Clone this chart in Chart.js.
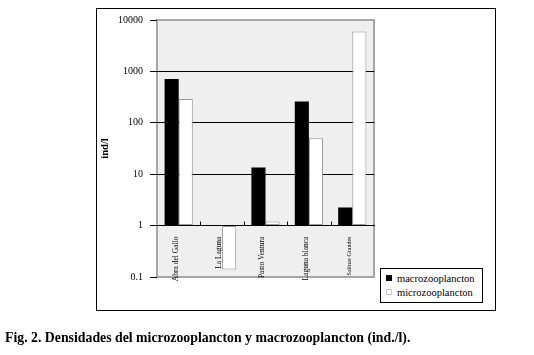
<!DOCTYPE html>
<html>
<head>
<meta charset="utf-8">
<script src="https://cdn.jsdelivr.net/npm/chart.js@4/dist/chart.umd.min.js"></script>
<style>
  html, body { margin: 0; padding: 0; background: #fff; }
  #wrap { position: relative; width: 534px; height: 355px; overflow: hidden; }
  #c { position: absolute; left: 0; top: 0; }
  #frame { position: absolute; left: 96px; top: 8px; width: 398px; height: 301px; border: 1px solid #000; pointer-events: none; }
  #legend { position: absolute; left: 380px; top: 268px; width: 101px; height: 33px; border: 1px solid #000; background: #fff; }
  .li { position: absolute; left: 5px; height: 12px; line-height: 12px; white-space: nowrap;
        font: 10.5px "Liberation Serif", "DejaVu Serif", serif; color: #000; }
  .sw { display: inline-block; width: 6px; height: 6px; margin-right: 5px; vertical-align: 1px; box-sizing: border-box; }
  #caption { position: absolute; left: 5px; top: 330px; font: bold 13.8px "Liberation Serif", "DejaVu Serif", serif; color: #000; white-space: nowrap; }
</style>
</head>
<body>
<div id="wrap">
  <canvas id="c" width="534" height="355"></canvas>
  <div id="frame"></div>
  <div id="legend"></div>
  <div id="caption">Fig. 2. Densidades del microzooplancton y macrozooplancton (ind./l).</div>
</div>
<script>
const categories = ['Abra del Gallo', 'La Laguna', 'Pasto Ventura', 'Laguna blanca', 'Salinas Grandes'];
const macrozooplancton = [710, null, 13.5, 260, 2.25];
const microzooplancton = [290, 0.14, 1.2, 50, 6000];
const yTicks = [0.1, 1, 10, 100, 1000, 10000];
const axisCross = 1;
const seriesLabels = ['macrozooplancton', 'microzooplancton'];

const plotBg = {
  id: 'plotBg',
  beforeDraw(chart) {
    const {ctx, chartArea: a} = chart;
    ctx.save();
    ctx.fillStyle = '#efefef';
    ctx.fillRect(a.left, a.top, a.right - a.left, a.bottom - a.top);
    ctx.strokeStyle = '#a6a6a6';
    ctx.lineWidth = 2;
    ctx.strokeRect(a.left, a.top, a.right - a.left, a.bottom - a.top);
    ctx.restore();
  },
  afterDatasetsDraw(chart) {
    const {ctx} = chart;
    const xs = chart.scales.x, ys = chart.scales.y;
    const y0 = ys.getPixelForValue(axisCross);
    ctx.save();
    ctx.strokeStyle = '#000';
    ctx.lineWidth = 1;
    for (let i = 1; i < categories.length; i++) {
      const x = Math.round((xs.getPixelForValue(i - 1) + xs.getPixelForValue(i)) / 2) + 0.5;
      ctx.beginPath();
      ctx.moveTo(x, y0);
      ctx.lineTo(x, y0 - 4);
      ctx.stroke();
    }
    ctx.restore();
  }
};

const chart = new Chart(document.getElementById('c'), {
  type: 'bar',
  data: {
    labels: categories,
    datasets: [
      { label: seriesLabels[0], data: macrozooplancton, base: axisCross, backgroundColor: '#000', borderWidth: 0,
        categoryPercentage: 0.65, barPercentage: 1 },
      { label: seriesLabels[1], data: microzooplancton, base: axisCross, backgroundColor: '#fff', borderColor: '#9a9a9a', borderWidth: 1,
        borderSkipped: false, categoryPercentage: 0.65, barPercentage: 1 }
    ]
  },
  options: {
    responsive: false,
    animation: false,
    devicePixelRatio: 1,
    layout: { padding: { left: 99, top: 20, right: 160, bottom: 78 } },
    plugins: { legend: { display: false }, tooltip: { enabled: false } },
    scales: {
      x: {
        type: 'category',
        position: { y: axisCross },
        offset: true,
        grid: { display: false },
        border: { display: true, color: '#000', width: 1 },
        ticks: {
          minRotation: 90, maxRotation: 90, padding: 3, autoSkip: false, labelOffset: -3,
          color: '#000',
          font: (ctx) => ({ family: 'Liberation Serif', size: ctx.index === 4 ? 6 : 7.5 })
        }
      },
      y: {
        type: 'logarithmic',
        min: 0.1, max: 10000,
        afterBuildTicks: (s) => { s.ticks = yTicks.map(v => ({ value: v })); },
        afterFit: (s) => { s.width = 58; },
        border: { display: false },
        grid: {
          color: (ctx) => (ctx.tick && (ctx.tick.value === 0.1 || ctx.tick.value === 10000)) ? 'rgba(0,0,0,0)' : '#000',
          tickColor: '#000',
          tickLength: 7,
          lineWidth: 1
        },
        ticks: {
          padding: 7,
          color: '#000',
          font: { family: 'Liberation Serif', size: 10 },
          callback: (v) => String(v)
        },
        title: {
          display: true, text: 'ind/l', color: '#000', padding: 0,
          font: { family: 'Liberation Serif', size: 10.5, weight: 'bold' }
        }
      }
    }
  },
  plugins: [plotBg]
});

// legend as html text, from dataset labels and colours
const lg = document.getElementById('legend');
chart.data.datasets.forEach((ds, i) => {
  const d = document.createElement('div');
  d.className = 'li';
  d.style.top = (4 + i * 14) + 'px';
  const sw = document.createElement('span');
  sw.className = 'sw';
  sw.style.background = ds.backgroundColor;
  if (ds.borderColor) sw.style.border = '1px solid #c8c8c8';
  d.appendChild(sw);
  d.appendChild(document.createTextNode(ds.label));
  lg.appendChild(d);
});
</script>
</body>
</html>
